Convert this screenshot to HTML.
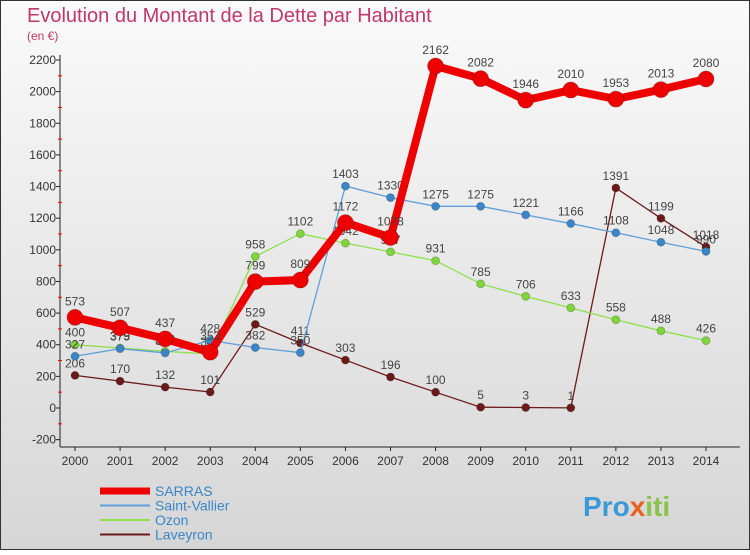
<!DOCTYPE html>
<html><head><meta charset="utf-8"><style>
body{margin:0;width:750px;height:550px;overflow:hidden;font-family:"Liberation Sans",sans-serif}
</style></head><body>
<svg id="c" width="750" height="550" xmlns="http://www.w3.org/2000/svg">
<defs><linearGradient id="bg" x1="0" y1="0" x2="0" y2="1"><stop offset="0" stop-color="#fafafa"/><stop offset="1" stop-color="#d6d6d6"/></linearGradient></defs>
<rect x="0.5" y="0.5" width="749" height="549" fill="url(#bg)" stroke="#333"/>
<text x="27" y="22" font-size="20" fill="#c0386a">Evolution du Montant de la Dette par Habitant</text>
<text x="27" y="40" font-size="12" fill="#c0386a">(en €)</text>
<g id="axes"></g><g id="series"></g><g id="legend"></g>
<text x="583" y="516" font-size="28" font-weight="bold" fill="#3a9ad9">Pro<tspan fill="#e8601c">x</tspan><tspan fill="#8bc34a">iti</tspan></text>
</svg>
<script>
const years=[2000,2001,2002,2003,2004,2005,2006,2007,2008,2009,2010,2011,2012,2013,2014];
const sarras=[573,507,437,353,799,809,1172,1078,2162,2082,1946,2010,1953,2013,2080];
const saintVallier=[327,375,348,428,382,350,1403,1330,1275,1275,1221,1166,1108,1048,990];
const ozon=[400,379,358,341,958,1102,1042,987,931,785,706,633,558,488,426];
const laveyron=[206,170,132,101,529,411,303,196,100,5,3,1,1391,1199,1018];
const yTicks=[-200,0,200,400,600,800,1000,1200,1400,1600,1800,2000,2200];
const NS="http://www.w3.org/2000/svg";
const X=i=>75+i*(706-75)/14;
const Y=v=>408-v*(408-60)/2200;
function mk(t,a,p){const e=document.createElementNS(NS,t);for(const k in a)e.setAttribute(k,a[k]);p.appendChild(e);return e;}
const ax=document.getElementById('axes');
const yl=mk('line',{x1:60,y1:55,x2:60,y2:447,stroke:'#222'},ax);

const xl=mk('line',{x1:60,y1:447,x2:740,y2:447,stroke:'#222'},ax);

yTicks.forEach(v=>{const t=mk('text',{x:56,y:Y(v)+4,'font-size':12,'text-anchor':'end',fill:'#333'},ax);t.textContent=v;

mk('line',{x1:56,y1:Y(v),x2:60,y2:Y(v),stroke:'#222'},ax);
if(v<2200)mk('line',{x1:58,y1:Y(v+100),x2:62,y2:Y(v+100),stroke:'#e00'},ax);});
years.forEach((y,i)=>{const t=mk('text',{x:X(i),y:465,'font-size':12,'text-anchor':'middle',fill:'#333'},ax);t.textContent=y;

mk('line',{x1:X(i),y1:447,x2:X(i),y2:451,stroke:'#222'},ax);});
const S=document.getElementById('series');
const defs=[[laveyron,'#6b1a1a','#6b1a1a',1.3,4,'laveyron'],[ozon,'#8ee04a','#7fd63a',1.3,4,'ozon'],[saintVallier,'#5fa0d8','#3a86c8',1.3,4,'saint-vallier'],[sarras,'#ee0000','#ee0000',8,8,'sarras']];
defs.forEach(([d,c,mc,w,r,n])=>{
const g=mk('g',{},S);
const p=mk('polyline',{points:d.map((v,i)=>X(i)+','+Y(v)).join(' '),fill:'none',stroke:c,'stroke-width':w},g);

d.forEach((v,i)=>{const m=mk('circle',{cx:X(i),cy:Y(v),r:r,fill:mc,stroke:'#0003'},g);

const t=mk('text',{x:X(i),y:Y(v)-r-4,'font-size':12,'text-anchor':'middle',fill:'#444'},g);t.textContent=v;
});});
const L=document.getElementById('legend');
[['SARRAS','#ee0000',7],['Saint-Vallier','#5fa0d8',2],['Ozon','#8ee04a',2],['Laveyron','#6b1a1a',2]].forEach(([n,c,w],i)=>{
const y=491+i*14.5;
const l=mk('line',{x1:100,y1:y,x2:150,y2:y,stroke:c,'stroke-width':w},L);

const t=mk('text',{x:155,y:y+5,'font-size':14,fill:'#3a86c8'},L);t.textContent=n;
});
</script>
</body></html>
